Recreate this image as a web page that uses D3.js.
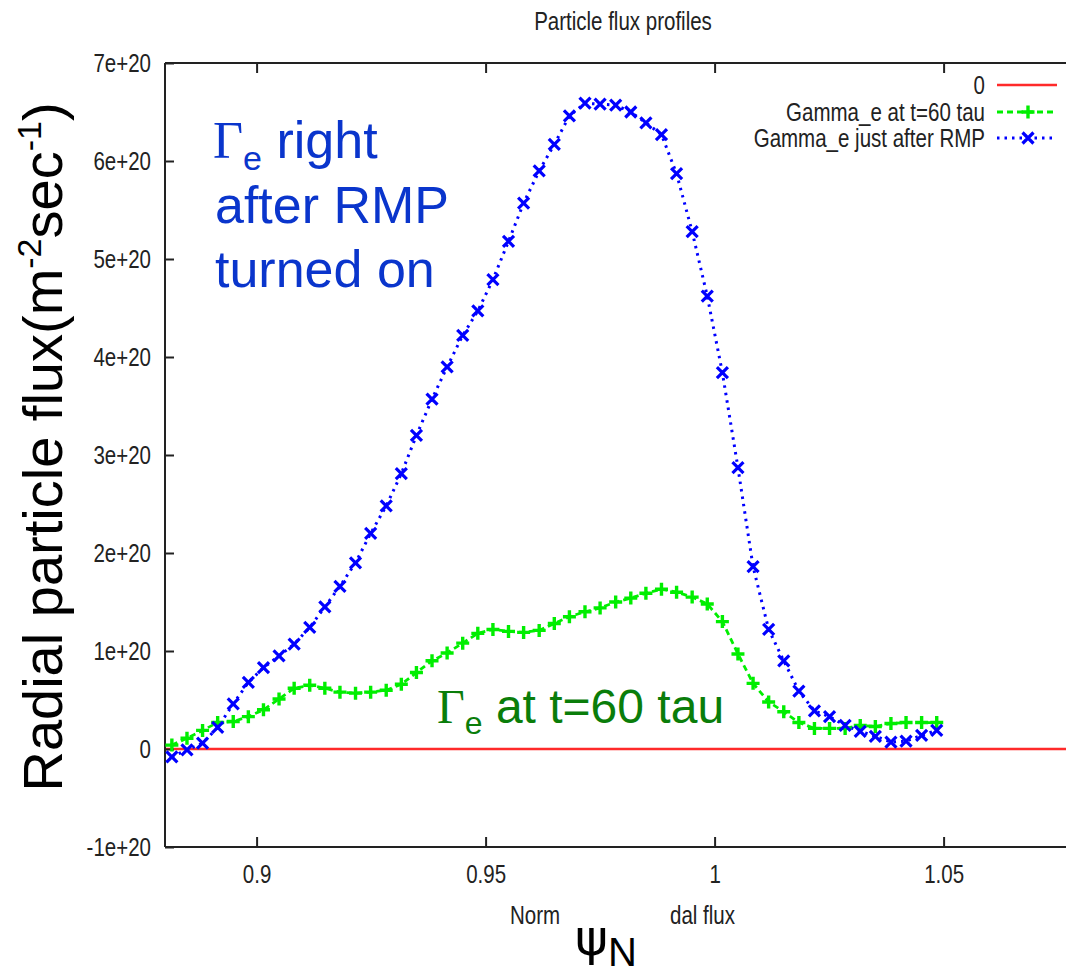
<!DOCTYPE html>
<html>
<head>
<meta charset="utf-8">
<script src="https://cdn.jsdelivr.net/npm/d3@7/dist/d3.min.js"></script>
<style>
  html, body { margin: 0; padding: 0; background: #fff; }
  svg { display: block; }
  .gp { font-family: "Liberation Sans Narrow", "Liberation Sans", Arial, sans-serif; fill: #222; }
</style>
</head>
<body>
<svg id="chart" width="1066" height="979"></svg>
<script>
// ---- data (flux in units of 1e20 m^-2 s^-1) ----
const psiN = [0.8815, 0.8848, 0.8882, 0.8915, 0.8949, 0.8982, 0.9015, 0.9049, 0.9082, 0.9116,
              0.9149, 0.9182, 0.9216, 0.9249, 0.9283, 0.9316, 0.9349, 0.9383, 0.9416, 0.9450,
              0.9483, 0.9516, 0.9550, 0.9583, 0.9617, 0.9650, 0.9683, 0.9717, 0.9750, 0.9784,
              0.9817, 0.9850, 0.9884, 0.9917, 0.9951, 0.9984, 1.0017, 1.0051, 1.0084, 1.0118,
              1.0151, 1.0184, 1.0218, 1.0251, 1.0285, 1.0318, 1.0351, 1.0385, 1.0418, 1.0452,
              1.0485];
const gammaT60 = [0.04, 0.11, 0.19, 0.27, 0.28, 0.33, 0.40, 0.51, 0.62, 0.65,
                  0.62, 0.58, 0.57, 0.58, 0.60, 0.66, 0.78, 0.90, 0.98, 1.08,
                  1.18, 1.22, 1.20, 1.19, 1.21, 1.28, 1.35, 1.40, 1.44, 1.50,
                  1.54, 1.59, 1.63, 1.60, 1.55, 1.48, 1.30, 0.97, 0.67, 0.48,
                  0.38, 0.27, 0.21, 0.21, 0.21, 0.24, 0.23, 0.26, 0.27, 0.27,
                  0.27];
const gammaRMP = [-0.08, -0.01, 0.06, 0.22, 0.46, 0.68, 0.83, 0.95, 1.07, 1.24,
                  1.45, 1.66, 1.90, 2.20, 2.48, 2.81, 3.20, 3.57, 3.90, 4.22,
                  4.47, 4.79, 5.18, 5.57, 5.90, 6.17, 6.46, 6.59, 6.58, 6.57,
                  6.50, 6.39, 6.27, 5.87, 5.28, 4.62, 3.84, 2.87, 1.86, 1.22,
                  0.90, 0.59, 0.39, 0.33, 0.24, 0.18, 0.13, 0.07, 0.08, 0.14,
                  0.19];
const zeroLine = [0, 0];
const xTicks = [0.9, 0.95, 1, 1.05];
const xTickLabels = ["0.9", "0.95", "1", "1.05"];
const yTicks = [-1, 0, 1, 2, 3, 4, 5, 6, 7];
const yTickLabels = ["-1e+20", "0", "1e+20", "2e+20", "3e+20", "4e+20", "5e+20", "6e+20", "7e+20"];
const legendLabels = ["0", "Gamma_e at t=60 tau", "Gamma_e just after RMP"];

const svg = d3.select("#chart");
const x = d3.scaleLinear().domain([0.88, 1.08]).range([165, 1081]);
const y = d3.scaleLinear().domain([-1, 7]).range([847, 63]);

const RED = "#ff2a2a", GREEN = "#00ee00", BLUE = "#0000ff";
const GPSIZE = 25;

// condensed look for the gnuplot-generated texts
function condense(sel, f) {
  sel.each(function () {
    const w = this.getComputedTextLength();
    this.setAttribute("textLength", (w * f).toFixed(1));
    this.setAttribute("lengthAdjust", "spacingAndGlyphs");
  });
}

// title
svg.append("text").attr("class", "gp").attr("x", 623).attr("y", 30)
  .attr("text-anchor", "middle").attr("font-size", GPSIZE).text("Particle flux profiles");

// zero line
svg.append("line").attr("x1", x(0.88)).attr("x2", x(1.08)).attr("y1", y(zeroLine[0])).attr("y2", y(zeroLine[1]))
  .attr("stroke", RED).attr("stroke-width", 2.5);

// axes (gnuplot style, ticks inward, mirrored)
const frame = svg.append("g");
frame.append("line").attr("x1", 165).attr("x2", 165).attr("y1", y(7)).attr("y2", y(-1)).attr("stroke", "#222").attr("stroke-width", 2);
frame.append("line").attr("x1", 165).attr("x2", x(1.08)).attr("y1", y(7)).attr("y2", y(7)).attr("stroke", "#222").attr("stroke-width", 2);
frame.append("line").attr("x1", 165).attr("x2", x(1.08)).attr("y1", y(-1)).attr("y2", y(-1)).attr("stroke", "#222").attr("stroke-width", 2);

const yAxis = d3.axisLeft(y).tickValues(yTicks).tickSizeInner(-9).tickSizeOuter(0)
  .tickFormat((d, i) => yTickLabels[i]).tickPadding(14);
const gy = svg.append("g").attr("transform", "translate(165,0)").call(yAxis);
gy.select(".domain").remove();
gy.selectAll(".tick line").attr("stroke", "#222").attr("stroke-width", 2);
gy.selectAll(".tick text").attr("class", "gp").attr("font-size", GPSIZE).attr("fill", "#222");

const xAxis = d3.axisBottom(x).tickValues(xTicks).tickSizeInner(-10).tickSizeOuter(0)
  .tickFormat((d, i) => xTickLabels[i]).tickPadding(18);
const gx = svg.append("g").attr("transform", `translate(0,${y(-1)})`).call(xAxis);
gx.select(".domain").remove();
gx.selectAll(".tick line").attr("stroke", "#222").attr("stroke-width", 2);
gx.selectAll(".tick text").attr("class", "gp").attr("font-size", GPSIZE).attr("fill", "#222");

const xTop = d3.axisTop(x).tickValues(xTicks).tickSizeInner(-10).tickSizeOuter(0).tickFormat("");
const gxt = svg.append("g").attr("transform", `translate(0,${y(7)})`).call(xTop);
gxt.select(".domain").remove();
gxt.selectAll(".tick line").attr("stroke", "#222").attr("stroke-width", 2);

// series lines
const lineGen = d3.line().x(d => x(d[0])).y(d => y(d[1]));
const greenPts = psiN.map((p, i) => [p, gammaT60[i]]);
const bluePts = psiN.map((p, i) => [p, gammaRMP[i]]);

svg.append("path").datum(greenPts).attr("d", lineGen).attr("fill", "none")
  .attr("stroke", GREEN).attr("stroke-width", 2.8).attr("stroke-dasharray", "6,4");
svg.append("path").datum(bluePts).attr("d", lineGen).attr("fill", "none")
  .attr("stroke", BLUE).attr("stroke-width", 3).attr("stroke-dasharray", "2.5,5");

function plusPath(cx, cy, s) { return `M${cx - s},${cy}H${cx + s}M${cx},${cy - s}V${cy + s}`; }
function crossPath(cx, cy, s) { return `M${cx - s},${cy - s}L${cx + s},${cy + s}M${cx - s},${cy + s}L${cx + s},${cy - s}`; }

svg.append("g").selectAll("path").data(greenPts).join("path")
  .attr("d", d => plusPath(x(d[0]), y(d[1]), 6.5))
  .attr("stroke", GREEN).attr("stroke-width", 3.4).attr("fill", "none");
svg.append("g").selectAll("path").data(bluePts).join("path")
  .attr("d", d => crossPath(x(d[0]), y(d[1]), 5.5))
  .attr("stroke", BLUE).attr("stroke-width", 3.2).attr("fill", "none");

// legend
const legRows = [85, 112, 138];
const leg = svg.append("g");
legendLabels.forEach((lab, i) => {
  leg.append("text").attr("class", "gp legtext").attr("x", 985).attr("y", legRows[i] + 9)
    .attr("text-anchor", "end").attr("font-size", GPSIZE).text(lab);
});
leg.append("line").attr("x1", 997).attr("x2", 1057).attr("y1", legRows[0]).attr("y2", legRows[0])
  .attr("stroke", RED).attr("stroke-width", 2.5);
leg.append("line").attr("x1", 997).attr("x2", 1057).attr("y1", legRows[1]).attr("y2", legRows[1])
  .attr("stroke", GREEN).attr("stroke-width", 2.8).attr("stroke-dasharray", "6,4");
leg.append("path").attr("d", plusPath(1028, legRows[1], 6.5)).attr("stroke", GREEN).attr("stroke-width", 3.4);
leg.append("line").attr("x1", 997).attr("x2", 1057).attr("y1", legRows[2]).attr("y2", legRows[2])
  .attr("stroke", BLUE).attr("stroke-width", 3).attr("stroke-dasharray", "2.5,5");
leg.append("path").attr("d", crossPath(1028, legRows[2], 5.5)).attr("stroke", BLUE).attr("stroke-width", 3.2);

// x axis label (partly hidden in original)
svg.append("text").attr("class", "gp xlab").attr("x", 510).attr("y", 924).attr("font-size", GPSIZE).text("Norm");
svg.append("text").attr("class", "gp xlab").attr("x", 735).attr("y", 924).attr("text-anchor", "end").attr("font-size", GPSIZE).text("dal flux");

condense(svg.selectAll("text.gp"), 0.82);

// psi_N
const psiT = svg.append("text").attr("x", 575).attr("y", 955)
  .attr("font-family", "'DejaVu Sans', sans-serif").attr("font-size", 50).attr("fill", "#000");
psiT.append("tspan").text("ψ");
psiT.append("tspan").attr("font-family", "'Liberation Sans', Arial, sans-serif").attr("font-size", 40).attr("dy", 11).text("N");

// y axis label
const yl = svg.append("text").attr("transform", "translate(62,447) rotate(-90)")
  .attr("text-anchor", "middle").attr("font-family", "'Liberation Sans', Arial, sans-serif")
  .attr("font-size", 56).attr("fill", "#000");
yl.append("tspan").text("Radial particle flux(m");
yl.append("tspan").attr("font-size", 34).attr("dy", -21).text("-2");
yl.append("tspan").attr("dy", 21).text("sec");
yl.append("tspan").attr("font-size", 34).attr("dy", -21).text("-1");
yl.append("tspan").attr("dy", 21).text(")");

// blue annotation
const ANN_BLUE = "#0a35cc";
const b1 = svg.append("text").attr("x", 213).attr("y", 158).attr("fill", ANN_BLUE).attr("font-size", 52)
  .attr("font-family", "'Liberation Sans', Arial, sans-serif");
b1.append("tspan").attr("font-family", "'Liberation Serif', 'Times New Roman', serif").text("Γ");
b1.append("tspan").attr("font-size", 34).attr("dy", 12).text("e");
b1.append("tspan").attr("dy", -12).text(" right");
svg.append("text").attr("x", 215).attr("y", 223).attr("fill", ANN_BLUE).attr("font-size", 52)
  .attr("font-family", "'Liberation Sans', Arial, sans-serif").text("after RMP");
svg.append("text").attr("x", 215).attr("y", 287).attr("fill", ANN_BLUE).attr("font-size", 52)
  .attr("font-family", "'Liberation Sans', Arial, sans-serif").text("turned on");

// green annotation
const ANN_GREEN = "#0a7d0a";
const g1 = svg.append("text").attr("x", 437).attr("y", 723).attr("fill", ANN_GREEN).attr("font-size", 48)
  .attr("font-family", "'Liberation Sans', Arial, sans-serif");
g1.append("tspan").attr("font-family", "'Liberation Serif', 'Times New Roman', serif").text("Γ");
g1.append("tspan").attr("font-size", 32).attr("dy", 11).text("e");
g1.append("tspan").attr("dy", -11).text(" at t=60 tau");
</script>
</body>
</html>
